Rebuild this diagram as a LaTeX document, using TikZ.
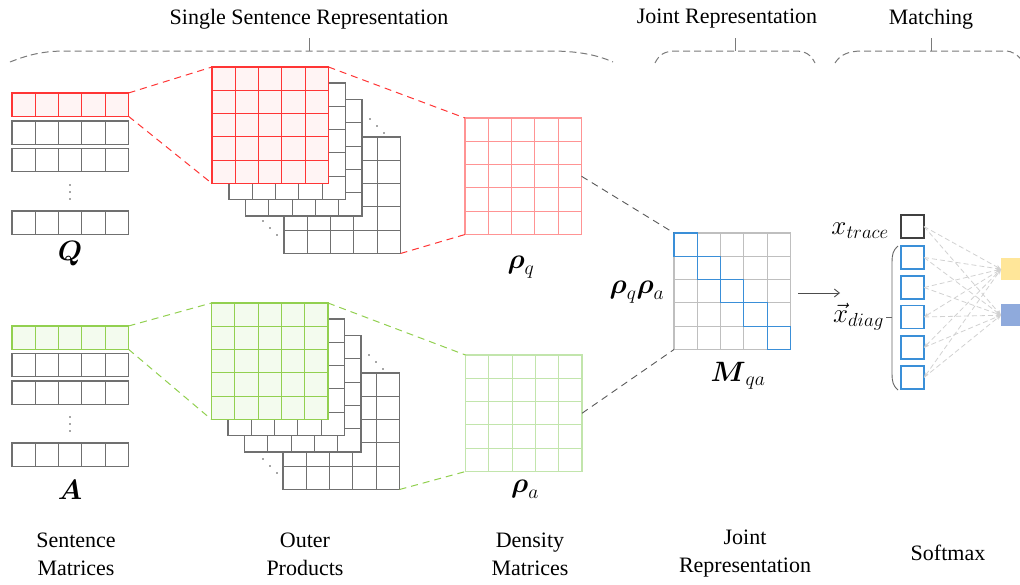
\RequirePackage{fix-cm}
\documentclass[tikz,border=0pt]{standalone}
\usepackage{amsmath}
\usepackage{fontspec}
\setmainfont{Liberation Serif}
\usetikzlibrary{calc,arrows.meta}
\definecolor{redc}{HTML}{FF3535}
\definecolor{redfill}{HTML}{FFF4F4}
\definecolor{redlight}{HTML}{FF9494}
\definecolor{greenc}{HTML}{92D050}
\definecolor{greenfill}{HTML}{F3FBEE}
\definecolor{greenlight}{HTML}{C2E5AC}
\definecolor{grayc}{HTML}{707070}
\definecolor{mgray}{HTML}{BFBFBF}
\definecolor{bluec}{HTML}{3A8FD8}
\definecolor{yel}{HTML}{FFE699}
\definecolor{blu}{HTML}{8FAADC}
\definecolor{brgray}{HTML}{7A7A7A}
\newcommand{\gridfive}[2]{%
  \foreach \i in {1,...,4} {
    \draw[#2] ($(#1.north west)!\i/5!(#1.north east)$) -- ($(#1.south west)!\i/5!(#1.south east)$);
    \draw[#2] ($(#1.north west)!\i/5!(#1.south west)$) -- ($(#1.north east)!\i/5!(#1.south east)$);
  }}
\newcommand{\rowfive}[2]{%
  \foreach \i in {1,...,4} {
    \draw[#2] ($(#1.north west)!\i/5!(#1.north east)$) -- ($(#1.south west)!\i/5!(#1.south east)$);
  }}
\begin{document}
\begin{tikzpicture}[x=1pt,y=-1pt,
  mat/.style={draw, minimum width=116.5pt, minimum height=116.5pt, inner sep=0pt, outer sep=0pt, anchor=north west, line width=1.1pt},
  rowbox/.style={draw, minimum width=116.5pt, minimum height=23.3pt, inner sep=0pt, outer sep=0pt, anchor=north west, line width=1.1pt},
  cell/.style={draw, minimum width=23pt, minimum height=23pt, inner sep=0pt, outer sep=0pt, anchor=north west, line width=1.1pt},
  lbl/.style={font=\fontsize{22}{24}\selectfont, inner sep=0pt},
  mlbl/.style={font=\fontsize{28}{30}\selectfont, inner sep=0pt},
  xlbl/.style={font=\fontsize{27}{30}\selectfont, inner sep=0pt},
  brace/.style={draw=brgray, line width=1pt, dash pattern=on 7pt off 4pt},
  tick/.style={draw=brgray, line width=1pt},
  conn/.style={line width=1pt, dash pattern=on 7pt off 5pt},
  sm/.style={draw=black!18, line width=0.8pt, dash pattern=on 5pt off 3pt, -{Stealth[length=5pt,width=4pt,open]}},
  smb/.style={draw=black!18, line width=0.8pt, dash pattern=on 5pt off 3pt, {Stealth[length=5pt,width=4pt,open]}-{Stealth[length=5pt,width=4pt,open]}},
  dot/.style={fill=black!70, circle, inner sep=0pt, minimum size=1.8pt}
]
\useasboundingbox (0,0) rectangle (1020,584);

% ---------- top headings and braces ----------
\node[lbl] (h1) at (309,19) {Single Sentence Representation};
\node[lbl] (h2) at (727,19) {Joint Representation};
\node[lbl] (h3) at (931,19) {Matching};
\draw[brace] (10,62) .. controls (30,54) and (45,51) .. (66,51) -- (550,51) .. controls (575,51) and (595,54) .. (613,62);
\draw[tick] (309,51) -- (309,38);
\draw[brace] (655,63) .. controls (659,55) and (664,51) .. (676,51) -- (795,51) .. controls (806,51) and (811,55) .. (815,63);
\draw[tick] (735,51) -- (735,38);
\draw[brace] (835,63) .. controls (840,55) and (848,51) .. (862,51) -- (1005,51) .. controls (1013,51) and (1018,55) .. (1024,63);
\draw[tick] (931,51) -- (931,38);

% ---------- sentence matrix Q ----------
\node[rowbox, draw=redc, fill=redfill] (qr1) at (12,93) {}; \rowfive{qr1}{redc, line width=1.1pt}
\node[rowbox, draw=grayc] (qr2) at (12,121) {}; \rowfive{qr2}{grayc, line width=1.1pt}
\node[rowbox, draw=grayc] (qr3) at (12,148.5) {}; \rowfive{qr3}{grayc, line width=1.1pt}
\node[rowbox, draw=grayc] (qr4) at (12,211) {}; \rowfive{qr4}{grayc, line width=1.1pt}
\node[dot] (qd1) at (70,185) {}; \node[dot] (qd2) at (70,192) {}; \node[dot] (qd3) at (70,199) {};
\node[mlbl] (Qlab) at (70,254) {$\boldsymbol{Q}$};

% ---------- sentence matrix A ----------
\node[rowbox, draw=greenc, fill=greenfill] (ar1) at (12,326) {}; \rowfive{ar1}{greenc, line width=1.1pt}
\node[rowbox, draw=grayc] (ar2) at (12,353.5) {}; \rowfive{ar2}{grayc, line width=1.1pt}
\node[rowbox, draw=grayc] (ar3) at (12,381) {}; \rowfive{ar3}{grayc, line width=1.1pt}
\node[rowbox, draw=grayc] (ar4) at (12,443) {}; \rowfive{ar4}{grayc, line width=1.1pt}
\node[dot] (ad1) at (70,417) {}; \node[dot] (ad2) at (70,424) {}; \node[dot] (ad3) at (70,431) {};
\node[mlbl] (Alab) at (70,490) {$\boldsymbol{A}$};

% ---------- outer products (Q) ----------
\node[mat, draw=grayc, fill=white] (qL) at (284,137) {}; \gridfive{qL}{grayc, line width=1.1pt}
\node[mat, draw=grayc, fill=white] (q3) at (245.5,99.5) {}; \gridfive{q3}{grayc, line width=1.1pt}
\node[mat, draw=grayc, fill=white] (q2) at (229,83) {}; \gridfive{q2}{grayc, line width=1.1pt}
\node[mat, draw=redc, fill=redfill] (q1) at (212,67) {}; \gridfive{q1}{redc, line width=1.1pt}
\node[dot] (qt1) at (370,119) {}; \node[dot] (qt2) at (377,126) {}; \node[dot] (qt3) at (384,133) {};
\node[dot] (qb1) at (263,221) {}; \node[dot] (qb2) at (270,228) {}; \node[dot] (qb3) at (277,235) {};

% ---------- outer products (A) ----------
\node[mat, draw=grayc, fill=white] (aL) at (283,373) {}; \gridfive{aL}{grayc, line width=1.1pt}
\node[mat, draw=grayc, fill=white] (a3) at (244.5,335.5) {}; \gridfive{a3}{grayc, line width=1.1pt}
\node[mat, draw=grayc, fill=white] (a2) at (228,319) {}; \gridfive{a2}{grayc, line width=1.1pt}
\node[mat, draw=greenc, fill=greenfill] (a1) at (211.5,303) {}; \gridfive{a1}{greenc, line width=1.1pt}
\node[dot] (at1) at (369,355) {}; \node[dot] (at2) at (376,362) {}; \node[dot] (at3) at (383,369) {};
\node[dot] (ab1) at (263,459) {}; \node[dot] (ab2) at (270,466) {}; \node[dot] (ab3) at (277,473) {};

% ---------- density matrices ----------
\node[mat, draw=redlight] (rq) at (465,118) {}; \gridfive{rq}{redlight, line width=1.1pt}
\node[mlbl] (rqlab) at (521,267) {$\boldsymbol{\rho}_q$};
\node[mat, draw=greenlight] (ra) at (465.5,355) {}; \gridfive{ra}{greenlight, line width=1.1pt}
\node[mlbl] (ralab) at (525,489) {$\boldsymbol{\rho}_a$};

% ---------- dashed projections ----------
\draw[conn, redc] (qr1.north east) -- (q1.north west);
\draw[conn, redc] (qr1.south east) -- (q1.south west);
\draw[conn, redc] (q1.north east) -- (rq.north west);
\draw[conn, redc] (qL.south east) -- (rq.south west);
\draw[conn, greenc] (ar1.north east) -- (a1.north west);
\draw[conn, greenc] (ar1.south east) -- (a1.south west);
\draw[conn, greenc] (a1.north east) -- (ra.north west);
\draw[conn, greenc] (aL.south east) -- (ra.south west);

% ---------- joint representation ----------
\node[mat, draw=mgray] (M) at (674,233) {}; \gridfive{M}{mgray, line width=1.1pt}
\foreach \k in {0,...,4} {
  \node[cell, draw=bluec, minimum width=23.3pt, minimum height=23.3pt] (d\k) at ($(M.north west)+(\k*23.3,\k*23.3)$) {};
}
\draw[conn, black!65, line width=0.9pt] (rq.east) -- (M.north west);
\draw[conn, black!65, line width=0.9pt] (ra.east) -- (M.south west);
\node[mlbl] (rqra) at (637,292) {$\boldsymbol{\rho}_q\boldsymbol{\rho}_a$};
\node[mlbl] (Mlab) at (738,376) {$\boldsymbol{M}_{qa}$};
\coordinate (arS) at (798,293);
\coordinate (arE) at (840,293);
\draw[black!70, line width=0.9pt, -{Straight Barb[length=5pt,width=8pt]}] (arS) -- (arE);

% ---------- softmax ----------
\node[cell, draw=black!75] (s0) at (901,215) {};
\node[cell, draw=bluec] (s1) at (901,246) {};
\node[cell, draw=bluec] (s2) at (901,276) {};
\node[cell, draw=bluec] (s3) at (901,305.5) {};
\node[cell, draw=bluec] (s4) at (901,336) {};
\node[cell, draw=bluec] (s5) at (901,366) {};
\node[draw=none, fill=yel, minimum width=30pt, minimum height=22pt, inner sep=0pt, anchor=north west] (o1) at (1001,258) {};
\node[draw=none, fill=blu, minimum width=30pt, minimum height=22pt, inner sep=0pt, anchor=north west] (o2) at (1001,304) {};
\draw[black!60, line width=0.9pt] (898,246) .. controls (893,250) and (892,255) .. (892,262) -- (892,374) .. controls (892,381) and (893,386) .. (898,390);
\draw[black!60, line width=0.9pt] (892,317) -- (886,317);
\foreach \s in {s0,s1,s2} {
  \draw[sm] (\s.east) -- (o1.west);
  \draw[sm] (\s.east) -- (o2.west);
}
\foreach \s in {s3,s4,s5} {
  \draw[smb] (\s.east) -- (o1.west);
  \draw[sm] (\s.east) -- (o2.west);
}
\node[xlbl, anchor=east] (xt) at (889,231) {$x_{trace}$};
\node[xlbl, anchor=east] (xd) at (884,317) {$\vec{x}_{diag}$};

% ---------- bottom captions ----------
\node[lbl, align=center, font=\fontsize{22}{28}\selectfont] (c1) at (76,554) {Sentence\\Matrices};
\node[lbl, align=center, font=\fontsize{22}{28}\selectfont] (c2) at (305,554) {Outer\\Products};
\node[lbl, align=center, font=\fontsize{22}{28}\selectfont] (c3) at (530,554) {Density\\Matrices};
\node[lbl, align=center, font=\fontsize{22}{28}\selectfont] (c4) at (745,554) {Joint\\Representation};
\node[lbl, font=\fontsize{22}{28}\selectfont] (c5) at (948,553) {Softmax};
\end{tikzpicture}
\end{document}
